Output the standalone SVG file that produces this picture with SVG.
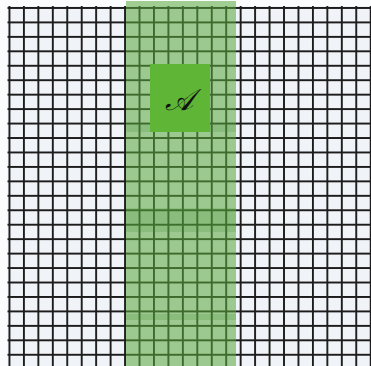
<svg xmlns="http://www.w3.org/2000/svg" width="371" height="366" viewBox="0 0 371 366">
<defs>
<style>
.gl{stroke:#1c1c1c;stroke-width:1.9;fill:none}
.band{fill:#5aa83c;fill-opacity:0.56}
.strip{fill:#3f8a2a;fill-opacity:0.18}
.box{fill:#5fb536}
.lbl{font-family:"DejaVu Serif","Liberation Serif",serif;font-style:italic;font-size:30px;fill:#111}
</style>
<pattern id="grid" x="8.5" y="7" width="14.45" height="14.45" patternUnits="userSpaceOnUse">
<rect width="14.45" height="14.45" fill="#f0f3f7"/>
<path d="M0.95 0V14.45M0 0.95H14.45" class="gl"/>
</pattern>
</defs>
<rect width="371" height="366" fill="#fbfcfd"/>
<g id="grid-sheet">
<rect x="7.5" y="6" width="364" height="362" fill="url(#grid)"/>
</g>
<g id="column-band">
<rect class="band" x="126" y="1" width="110" height="365"/>
<rect class="strip" x="126" y="124" width="110" height="8"/>
<rect class="strip" x="126" y="208" width="110" height="24"/>
<rect class="strip" x="126" y="314" width="110" height="6"/>
</g>
<g id="connectors"></g>
<g id="node-A">
<rect class="box" x="150" y="64" width="60" height="68"/>
<text class="lbl" x="179" y="110" text-anchor="middle">𝒜</text>
</g>
</svg>
